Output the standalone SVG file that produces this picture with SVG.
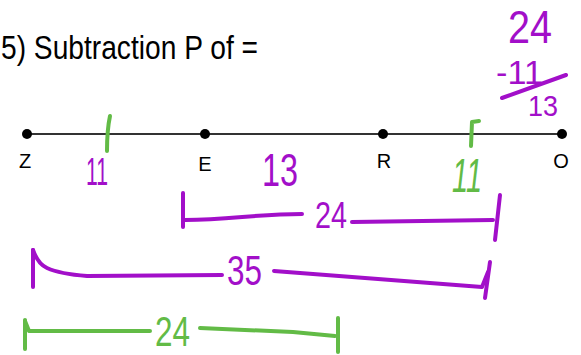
<svg xmlns="http://www.w3.org/2000/svg" width="581" height="355" viewBox="0 0 581 355">
<style>
.pt{fill:#000}
.lbl{font-family:"Liberation Sans",Arial,sans-serif;font-size:20px;fill:#000;text-anchor:middle}
.hand{font-family:"Liberation Sans",Arial,sans-serif;}
.pu{fill:#a20fc9}
.gr{fill:#62bb46}
.ps{stroke:#a20fc9;stroke-width:4;fill:none;stroke-linecap:round;stroke-linejoin:round}
.gs{stroke:#62bb46;stroke-width:4;fill:none;stroke-linecap:round;stroke-linejoin:round}
</style>
<rect width="581" height="355" fill="#fff"/>
<g id="title">
<text class="hand" x="1" y="59" font-size="33" fill="#000" textLength="257" lengthAdjust="spacingAndGlyphs">5) Subtraction P of =</text>
</g>
<g id="connectors">
<line x1="27" y1="134" x2="562" y2="134" stroke="#333" stroke-width="2"/>
</g>
<g id="node-Z"><circle class="pt" cx="27" cy="134" r="5"/><text class="lbl" x="25" y="168">Z</text></g>
<g id="node-E"><circle class="pt" cx="205" cy="134" r="5"/><text class="lbl" x="205" y="171">E</text></g>
<g id="node-R"><circle class="pt" cx="383" cy="134" r="5"/><text class="lbl" x="384" y="168">R</text></g>
<g id="node-O"><circle class="pt" cx="562" cy="134" r="5"/><text class="lbl" x="561" y="168">O</text></g>
<g id="ticks">
<path class="gs" d="M110,116 Q107,130 107,151"/>
<path class="gs" d="M479,121 L472,122 L471,146"/>
</g>
<g id="segment-labels">
<text class="hand pu" x="86" y="185" font-size="38" textLength="22" lengthAdjust="spacingAndGlyphs">11</text>
<text class="hand pu" x="262" y="186" font-size="47" textLength="36" lengthAdjust="spacingAndGlyphs">13</text>
<text class="hand gr" x="452" y="192" font-size="49" textLength="30" lengthAdjust="spacingAndGlyphs" font-style="italic">11</text>
</g>
<g id="calculation">
<text class="hand pu" x="508" y="43" font-size="47" textLength="44" lengthAdjust="spacingAndGlyphs">24</text>
<text class="hand pu" x="496" y="84" font-size="34" textLength="47" lengthAdjust="spacingAndGlyphs">-11</text>
<path class="ps" d="M502,98 L566,75" stroke-width="5"/>
<text class="hand pu" x="528" y="116" font-size="30" textLength="30" lengthAdjust="spacingAndGlyphs">13</text>
</g>
<g id="bracket-ER-24">
<path class="ps" d="M183,193 L183,227"/>
<path class="ps" d="M185,220 C230,220 255,214 302,214"/>
<text class="hand pu" x="315" y="228" font-size="36" textLength="32" lengthAdjust="spacingAndGlyphs">24</text>
<path class="ps" d="M352,222 L493,220"/>
<path class="ps" d="M500,195 L495,240"/>
</g>
<g id="bracket-ZO-35">
<path class="ps" d="M33,250 L33,287"/>
<path class="ps" d="M33,250 Q38,264 47,268 Q60,274 87,276 L222,275"/>
<text class="hand pu" x="227" y="285" font-size="42" textLength="35" lengthAdjust="spacingAndGlyphs">35</text>
<path class="ps" d="M274,271 L482,287 L488,272"/>
<path class="ps" d="M490,262 L485,298"/>
</g>
<g id="bracket-ZR-24">
<path class="gs" d="M25,320 L25,349"/>
<path class="gs" d="M25,321 L29,331 L150,331"/>
<text class="hand gr" x="155" y="346" font-size="42" textLength="35" lengthAdjust="spacingAndGlyphs">24</text>
<path class="gs" d="M200,328 L293,332 L335,336"/>
<path class="gs" d="M338,318 L338,352"/>
</g>
</svg>
